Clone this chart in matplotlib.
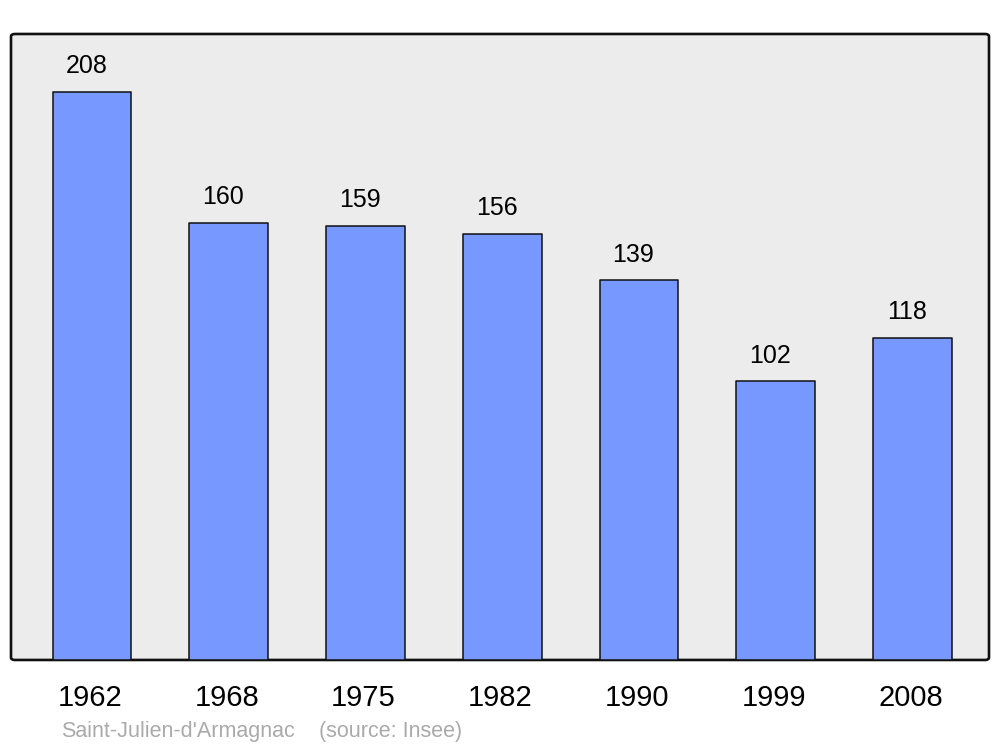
import matplotlib.pyplot as plt
import matplotlib.transforms as mtransforms
from matplotlib.patches import FancyBboxPatch

# données
years = ["1962", "1968", "1975", "1982", "1990", "1999", "2008"]
population = [208, 160, 159, 156, 139, 102, 118]
commune = "Saint-Julien-d'Armagnac"
source = "(source: Insee)"

plt.rcParams["font.family"] = ["Liberation Sans", "DejaVu Sans"]

fig = plt.figure(figsize=(10, 7.47), dpi=100)
ax = fig.add_axes([0.011, 0.1165, 0.978, 0.838])
ax.set_facecolor("none")

# fond arrondi
frame = FancyBboxPatch((0, 0), 1, 1, boxstyle="round,pad=0,rounding_size=0.004",
                       transform=ax.transAxes, facecolor="#ececec",
                       edgecolor="#111111", linewidth=1.9, zorder=0, clip_on=False)
ax.add_patch(frame)

x = range(len(years))
bars = ax.bar(x, population, width=0.575, color="#7799ff", edgecolor="#111111",
              linewidth=1.1, zorder=2)
for b in bars:
    b.set_joinstyle("round")

for xi, v in zip(x, population):
    ax.annotate(str(v), (xi, v), xytext=(-4, 18.5), textcoords="offset points",
                ha="center", va="center", fontsize=18, color="black")

ax.set_xlim(-0.592, 6.56)
ax.set_ylim(0, 229.2)
ax.set_xticks(list(x))
ax.set_xticklabels(years, fontsize=21)
ax.tick_params(axis="x", length=0, pad=17)
# léger décalage à gauche des années
shift = mtransforms.ScaledTranslation(-2 / 100, 0, fig.dpi_scale_trans)
for lbl in ax.get_xticklabels():
    lbl.set_transform(lbl.get_transform() + shift)
ax.set_yticks([])
for sp in ax.spines.values():
    sp.set_visible(False)

fig.text(0.061, 0.0134, commune, fontsize=15.5, color="#aaaaaa", ha="left", va="baseline")
fig.text(0.319, 0.0134, source, fontsize=15.5, color="#aaaaaa", ha="left", va="baseline")

fig.savefig("out.png", dpi=100)
